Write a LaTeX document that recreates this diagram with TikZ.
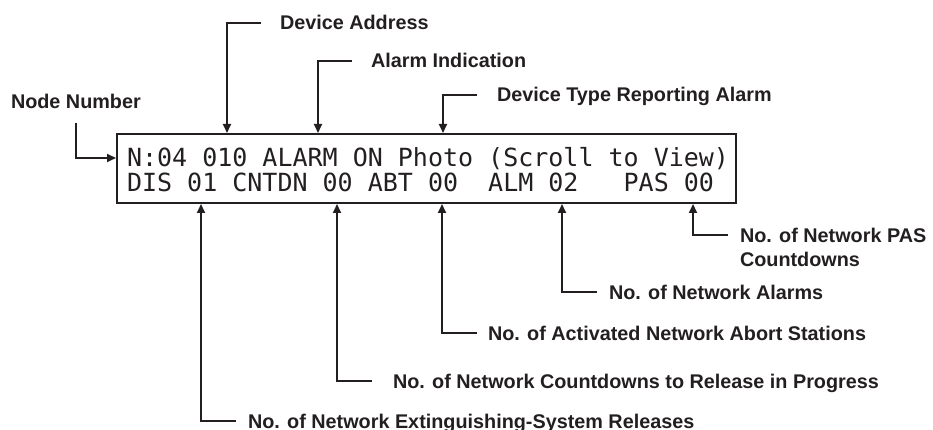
\documentclass[tikz,border=0pt]{standalone}
\usepackage{fontspec}
\setmainfont{Liberation Sans}
\newfontfamily\lcdfont{DejaVu Sans Mono}
\usetikzlibrary{arrows.meta,positioning}
\definecolor{ink}{RGB}{35,31,32}

\begin{document}
\begin{tikzpicture}[x=1pt,y=-1pt,line width=2pt,>={Triangle[length=9pt,width=8pt]},
  tag/.style={font=\fontsize{19.8}{22}\selectfont\bfseries,text=ink,inner sep=0pt,text height=14pt,text depth=0pt,anchor=west},
  lcd/.style={font=\lcdfont\fontsize{25}{25}\selectfont,text=ink,inner sep=0pt,anchor=base west},
  pointer/.style={->,draw=ink,line width=1.8pt}]
  \useasboundingbox (0,0) rectangle (933,430);
  % display window
  \node[draw=ink,minimum width=619pt,minimum height=69pt,inner sep=0pt] (disp) at (426.5,168.5) {};
  \node[lcd] (row1) at (126,167) {N:04 010 ALARM ON Photo (Scroll to View)};
  \node[lcd] (row2) at (126,192) {DIS 01 CNTDN 00 ABT 00~~ALM 02~~~PAS 00};
  % node number (left)
  \node[tag] (lNode) at (10,102) {Node Number};
  \coordinate (eNode) at (76,123);
  \coordinate (pNode) at (116,158);
  \draw[pointer] (eNode) |- (pNode);
  % pointers from above
  \foreach \n/\px/\ly/\lx/\txt in {Addr/227/23/279/Device Address,
      Alarm/318/61/370/Alarm Indication,
      Type/443/95/496/Device Type Reporting Alarm} {
    \coordinate (p\n) at (\px,133);
    \coordinate (e\n) at (\px+34,\ly);
    \node[tag] (l\n) at (\lx,\ly) {\txt};
    \draw[pointer] (e\n) -| (p\n);
  }
  % pointers from below
  \foreach \n/\px/\ly/\lx/\txt in {Dis/201/421/247/No. of Network Extinguishing-System Releases,
      Cnt/337/381/392/No. of Network Countdowns to Release in Progress,
      Abt/442/333/487/No. of Activated Network Abort Stations,
      Alm/562/292/608/No. of Network Alarms,
      Pas/693/235/739/No. of Network PAS} {
    \coordinate (p\n) at (\px,204);
    \coordinate (e\n) at (\px+35,\ly);
    \node[tag] (l\n) at (\lx,\ly) {\txt};
    \draw[pointer] (e\n) -| (p\n);
  }
  \node[tag,below right=8pt and 0pt of lPas.south west] (lPas2) {Countdowns};
\end{tikzpicture}
\end{document}
